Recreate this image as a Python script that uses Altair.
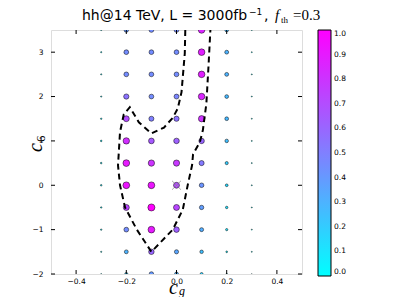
import altair as alt
import pandas as pd

# grid of couplings
cg_values = [-0.3, -0.2, -0.1, 0.0, 0.1, 0.2, 0.3]
c6_values = [3.5, 3.0, 2.5, 2.0, 1.5, 1.0, 0.5, 0.0, -0.5, -1.0, -1.5, -2.0]
# significance-like value per grid point (row = c6, col = cg)
v_35 = [0.03, 0.40, 0.45, 0.45, 0.85, 0.28, 0.02]
v_30 = [0.03, 0.45, 0.45, 0.45, 0.88, 0.30, 0.02]
v_25 = [0.03, 0.45, 0.45, 0.45, 0.88, 0.30, 0.02]
v_20 = [0.03, 0.55, 0.45, 0.48, 0.85, 0.28, 0.02]
v_15 = [0.04, 0.70, 0.50, 0.55, 0.80, 0.28, 0.02]
v_10 = [0.05, 0.82, 0.65, 0.62, 0.60, 0.25, 0.02]
v_05 = [0.05, 0.90, 0.80, 0.78, 0.52, 0.20, 0.02]
v_00 = [0.05, 0.92, 0.92, 0.70, 0.42, 0.15, 0.02]
v_m05 = [0.04, 0.72, 1.00, 0.72, 0.38, 0.12, 0.02]
v_m10 = [0.04, 0.45, 0.90, 0.62, 0.32, 0.10, 0.02]
v_m15 = [0.03, 0.30, 0.60, 0.35, 0.25, 0.06, 0.02]
v_m20 = [0.02, 0.20, 0.40, 0.30, 0.18, 0.04, 0.01]
grid_rows = [v_35, v_30, v_25, v_20, v_15, v_10, v_05, v_00, v_m05, v_m10, v_m15, v_m20]

# dashed contour
contour_cg = [0.035, 0.033, 0.02, 0.005, -0.015, -0.05, -0.1, -0.15, -0.186, -0.21,
              -0.225, -0.233, -0.225, -0.205, -0.158, -0.1, -0.066, -0.015, 0.025,
              0.046, 0.062, 0.066, 0.093, 0.105, 0.119, 0.128, 0.135]
contour_c6 = [3.5, 2.97, 2.1, 1.73, 1.52, 1.3, 1.17, 1.42, 1.76, 1.6,
              1.2, 0.45, 0.0, -0.5, -1.0, -1.5, -1.3, -1.0, -0.55,
              0.04, 0.45, 0.7, 0.97, 1.24, 1.84, 2.74, 3.5]

best_cg = [0.0]
best_c6 = [0.0]

x_ticks = [-0.4, -0.2, 0.0, 0.2, 0.4]
y_ticks = [-2, -1, 0, 1, 2, 3]
cbar_ticks = [0.0, 0.1, 0.2, 0.3, 0.4, 0.5, 0.6, 0.7, 0.8, 0.9, 1.0]

W, H = 251, 244

records = []
for c6, row in zip(c6_values, grid_rows):
    for cg, v in zip(cg_values, row):
        records.append({"cg": cg, "c6": c6, "v": v, "sz": v})
df = pd.DataFrame(records)
cont = pd.DataFrame({"cg": contour_cg, "c6": contour_c6, "i": list(range(len(contour_cg)))})

xs = alt.Scale(domain=[-0.5, 0.5], nice=False, zero=False)
ys = alt.Scale(domain=[-2, 3.5], nice=False, zero=False)

xaxis = alt.Axis(values=x_ticks, format=".1f", labelFont="DejaVu Sans", labelFontSize=7.5,
                 labelColor="black", ticks=False, domain=False, grid=False, title=None,
                 labelPadding=3)
yaxis = alt.Axis(values=y_ticks, format="d", labelFont="DejaVu Sans", labelFontSize=7.5,
                 labelColor="black", ticks=False, domain=False, grid=False, title=None,
                 labelPadding=8)

points = alt.Chart(df).mark_circle(stroke="black", strokeWidth=0.5, opacity=1, clip=True).encode(
    x=alt.X("cg:Q", scale=xs, axis=xaxis),
    y=alt.Y("c6:Q", scale=ys, axis=yaxis),
    color=alt.Color("v:Q",
                    scale=alt.Scale(domain=[0, 1], range=["#00ffff", "#ff00ff"], interpolate="rgb"),
                    legend=alt.Legend(orient="none", legendX=267, legendY=0, direction="vertical",
                                      type="gradient",
                                      gradientLength=246, gradientThickness=13, title=None,
                                      values=cbar_ticks, format=".1f", labelFont="DejaVu Sans",
                                      labelFontSize=7.5, labelColor="black",
                                      gradientStrokeColor="black", gradientStrokeWidth=1,
                                      labelOffset=3, padding=0, labelOverlap=False)),
    size=alt.Size("sz:Q", scale=alt.Scale(domain=[0, 2], range=[0, 100]), legend=None),
)

line = alt.Chart(cont).mark_line(color="black", strokeWidth=2, strokeDash=[6, 4], clip=True).encode(
    x=alt.X("cg:Q", scale=xs), y=alt.Y("c6:Q", scale=ys), order="i:Q"
)

best = alt.Chart(pd.DataFrame({"cg": best_cg, "c6": best_c6})).mark_point(
    shape="M-1,-1L1,1M-1,1L1,-1", filled=False, stroke="#888888", strokeWidth=1, size=80
).encode(x=alt.X("cg:Q", scale=xs), y=alt.Y("c6:Q", scale=ys))

xt = pd.DataFrame({"t": x_ticks})
yt = pd.DataFrame({"t": y_ticks})
tick_b = alt.Chart(xt).mark_rule(color="black", strokeWidth=1).encode(
    x=alt.X("t:Q", scale=xs), y=alt.value(H), y2=alt.value(H - 4))
tick_t = alt.Chart(xt).mark_rule(color="black", strokeWidth=1).encode(
    x=alt.X("t:Q", scale=xs), y=alt.value(0), y2=alt.value(4))
tick_l = alt.Chart(yt).mark_rule(color="black", strokeWidth=1).encode(
    y=alt.Y("t:Q", scale=ys), x=alt.value(0), x2=alt.value(4))
tick_r = alt.Chart(yt).mark_rule(color="black", strokeWidth=1).encode(
    y=alt.Y("t:Q", scale=ys), x=alt.value(W), x2=alt.value(W - 4))


def label(txt, x, y, size, font="DejaVu Sans", style="normal", angle=0):
    kw = dict(align="left", baseline="alphabetic", font=font, fontSize=size,
              fontStyle=style, color="black")
    if angle:
        kw["angle"] = angle
    return alt.Chart(pd.DataFrame({"s": [txt]})).mark_text(**kw).encode(
        text="s:N", x=alt.value(x), y=alt.value(y))


texts = [
    label("hh@14 TeV, L = 3000fb", 31, -10, 14),
    label("\u22121", 198, -15, 9),
    label(",", 213, -10, 14),
    label("f", 224, -10, 15, font="Liberation Serif", style="italic"),
    label("th", 230, -7, 9, font="Liberation Serif"),
    label("=0.3", 242, -10, 15, font="Liberation Serif"),
    label("c", 118, 264, 20, font="Liberation Serif", style="italic"),
    label("g", 128, 265, 12, font="Liberation Serif", style="italic"),
    label("c", -9, 122, 20, font="Liberation Serif", style="italic", angle=270),
    label("6", -6, 112, 13, font="Liberation Serif", angle=270),
]

chart = alt.layer(points, line, best, tick_b, tick_t, tick_l, tick_r, *texts).properties(
    width=W, height=H,
    padding={"left": 43, "top": 22, "right": 97, "bottom": 23},
    autosize=alt.AutoSizeParams(type="none"),
).configure_view(stroke="black", strokeWidth=1).configure(background="white")

chart.save("out.html", embed_options={"renderer": "svg", "actions": False})
